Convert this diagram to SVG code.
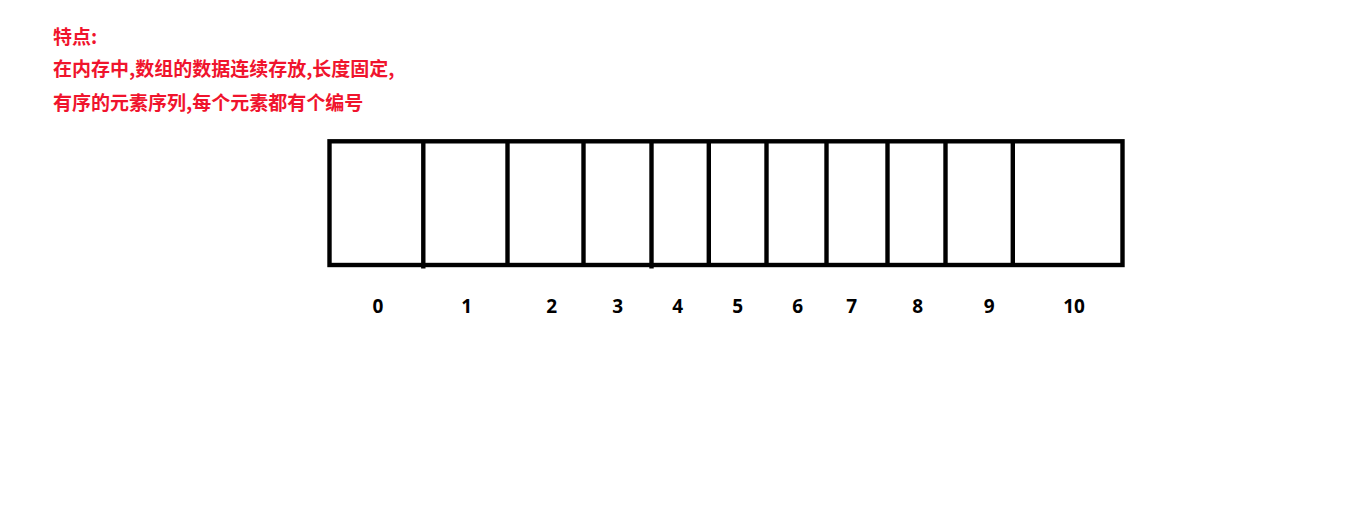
<svg xmlns="http://www.w3.org/2000/svg" width="1345" height="531" viewBox="0 0 1345 531">
<style>
.note{font-family:"Noto Sans CJK SC","Liberation Sans",sans-serif;font-weight:bold;font-size:19px;fill:#f0142d}
.idx{font-family:"Noto Sans","Liberation Sans",sans-serif;font-weight:bold;font-size:19px;fill:#000;text-anchor:middle}
.ln{stroke:#000;stroke-width:4.4;fill:none}
</style>
<rect width="1345" height="531" fill="#fff"/>
<g id="notes">
<text class="note" x="53" y="43.5">特点:</text>
<text class="note" x="53" y="75.5">在内存中,数组的数据连续存放,长度固定,</text>
<text class="note" x="53" y="109.5">有序的元素序列,每个元素都有个编号</text>
</g>
<g id="array">
<rect class="ln" x="329.5" y="141.3" width="793" height="123.7"/>
<line class="ln" x1="423.3" y1="141" x2="423.3" y2="268.5"/>
<line class="ln" x1="507.5" y1="141" x2="507.5" y2="265"/>
<line class="ln" x1="583.5" y1="141" x2="583.5" y2="265"/>
<line class="ln" x1="651.5" y1="141" x2="651.5" y2="268.5"/>
<line class="ln" x1="708.8" y1="141" x2="708.8" y2="265"/>
<line class="ln" x1="766.5" y1="141" x2="766.5" y2="265"/>
<line class="ln" x1="826.5" y1="141" x2="826.5" y2="265"/>
<line class="ln" x1="887.5" y1="141" x2="887.5" y2="265"/>
<line class="ln" x1="945.5" y1="141" x2="945.5" y2="265"/>
<line class="ln" x1="1012.8" y1="141" x2="1012.8" y2="265"/>
</g>
<g id="indices">
<text class="idx" x="378" y="313">0</text>
<text class="idx" x="466.7" y="313">1</text>
<text class="idx" x="551.7" y="313">2</text>
<text class="idx" x="617.7" y="313">3</text>
<text class="idx" x="677.7" y="313">4</text>
<text class="idx" x="737.7" y="313">5</text>
<text class="idx" x="797.7" y="313">6</text>
<text class="idx" x="851.7" y="313">7</text>
<text class="idx" x="917.7" y="313">8</text>
<text class="idx" x="989.3" y="313">9</text>
<text class="idx" x="1074" y="313">10</text>
</g>
</svg>
